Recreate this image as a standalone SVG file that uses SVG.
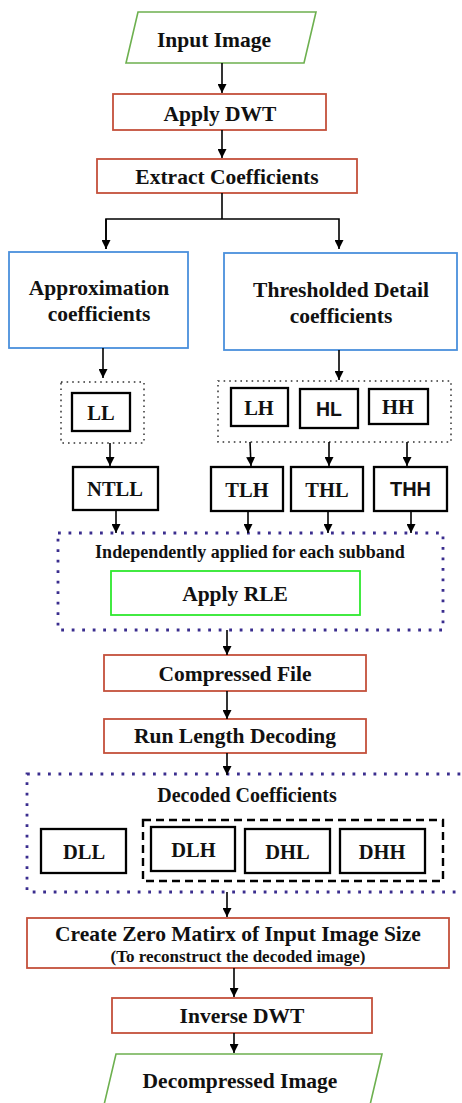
<svg xmlns="http://www.w3.org/2000/svg" width="462" height="1103" viewBox="0 0 462 1103">
<defs>
<marker id="ah" viewBox="0 0 10 10" refX="10" refY="5" markerWidth="9" markerHeight="9" markerUnits="userSpaceOnUse" orient="auto">
<path d="M0,0 L10,5 L0,10 z" fill="#000"/>
</marker>
<style>
.t{font-family:"Liberation Serif","Times New Roman",serif;font-weight:bold;fill:#111;text-anchor:middle}
.s{font-family:"Liberation Sans",Arial,sans-serif;font-weight:bold;fill:#111;text-anchor:middle}
.f21{font-size:21.5px}
.f20{font-size:20.5px}
.io{fill:#fff;stroke:#6db04f;stroke-width:1.6}
.pr{fill:#fff;stroke:#c4503b;stroke-width:1.8}
.bl{fill:#fff;stroke:#4a90dc;stroke-width:1.8}
.bk{fill:#fff;stroke:#000;stroke-width:2.3}
.dot{fill:none;stroke:#333;stroke-width:1.5;stroke-dasharray:1.6 4}
.pd{fill:none;stroke:#3a2d8e;stroke-width:2.8;stroke-dasharray:2.8 7.7}
.ds{fill:none;stroke:#000;stroke-width:2.4;stroke-dasharray:8 5}
.c{fill:none;stroke:#000;stroke-width:1.6}
</style>
</defs>

<g id="input">
<polygon class="io" points="138,12 316,12 304,63 126,63"/>
<text class="t f21" x="214" y="47">Input Image</text>
</g>
<g id="dwt">
<rect class="pr" x="113" y="94" width="213" height="36"/>
<text class="t f21" x="220" y="121">Apply DWT</text>
</g>
<g id="extract">
<rect class="pr" x="97" y="159" width="260" height="34"/>
<text class="t f21" x="227" y="184">Extract Coefficients</text>
</g>
<g id="approx">
<rect class="bl" x="9" y="252" width="179" height="96"/>
<text class="t f21" x="99" y="295">Approximation</text>
<text class="t f21" x="99" y="321">coefficients</text>
</g>
<g id="detail">
<rect class="bl" x="224" y="253" width="233" height="97"/>
<text class="t f21" x="341" y="297">Thresholded Detail</text>
<text class="t f21" x="341" y="323">coefficients</text>
</g>
<g id="llgroup">
<rect class="dot" x="61" y="382" width="83" height="61"/>
</g>
<g id="ll">
<rect class="bk" x="72" y="393" width="58" height="38"/>
<text class="t f20" x="101" y="420">LL</text>
</g>
<g id="detailgroup">
<rect class="dot" x="218" y="381" width="233" height="61"/>
</g>
<g id="lh">
<rect class="bk" x="231" y="388" width="57" height="38"/>
<text class="t f20" x="259" y="415">LH</text>
</g>
<g id="hl">
<rect class="bk" x="300" y="389" width="58" height="39"/>
<text class="s" font-size="19.5" x="329" y="416">HL</text>
</g>
<g id="hh">
<rect class="bk" x="369" y="389" width="59" height="35"/>
<text class="t f20" x="398" y="414">HH</text>
</g>
<g id="ntll">
<rect class="bk" x="73" y="467" width="85" height="43"/>
<text class="t f20" x="115" y="496">NTLL</text>
</g>
<g id="tlh">
<rect class="bk" x="211" y="467" width="72" height="44"/>
<text class="t f20" x="247" y="497">TLH</text>
</g>
<g id="thl">
<rect class="bk" x="291" y="467" width="72" height="44"/>
<text class="t f20" x="327" y="497">THL</text>
</g>
<g id="thh">
<rect class="bk" x="374" y="467" width="73" height="44"/>
<text class="s" font-size="20" x="410.5" y="496">THH</text>
</g>
<g id="rlegroup">
<rect class="pd" x="58" y="533" width="385" height="97"/>
<text class="t" font-size="18" x="250" y="558">Independently applied for each subband</text>
</g>
<g id="rle">
<rect x="111" y="571" width="249" height="44" fill="#fff" stroke="#2ee82e" stroke-width="1.8"/>
<text class="t f21" x="235" y="601">Apply RLE</text>
</g>
<g id="compressed">
<rect class="pr" x="104" y="655" width="262" height="36"/>
<text class="t f21" x="235" y="681">Compressed File</text>
</g>
<g id="rld">
<rect class="pr" x="104" y="719" width="262" height="34"/>
<text class="t f21" x="235" y="743">Run Length Decoding</text>
</g>
<g id="decoded">
<rect class="pd" x="27" y="774" width="444" height="118"/>
<text class="t" font-size="20" x="247" y="802">Decoded Coefficients</text>
<rect class="ds" x="143" y="820" width="300" height="61"/>
</g>
<g id="dll">
<rect class="bk" x="41" y="829" width="85" height="44"/>
<text class="t f20" x="84" y="859">DLL</text>
</g>
<g id="dlh">
<rect class="bk" x="151" y="827" width="84" height="44"/>
<text class="t f20" x="193.5" y="857">DLH</text>
</g>
<g id="dhl">
<rect class="bk" x="245" y="829" width="85" height="44"/>
<text class="t f20" x="287.5" y="859">DHL</text>
</g>
<g id="dhh">
<rect class="bk" x="340" y="829" width="85" height="44"/>
<text class="t f20" x="382" y="859">DHH</text>
</g>
<g id="zero">
<rect class="pr" x="27" y="918" width="422" height="50"/>
<text class="t f21" x="238" y="941">Create Zero Matirx of Input Image Size</text>
<text class="t" font-size="17" x="238" y="962">(To reconstruct the decoded image)</text>
</g>
<g id="idwt">
<rect class="pr" x="112" y="998" width="260" height="35"/>
<text class="t f21" x="242" y="1023">Inverse DWT</text>
</g>
<g id="output">
<polygon class="io" points="116,1054 382,1054 370,1105 104,1105"/>
<text class="t f21" x="240" y="1088">Decompressed Image</text>
</g>

<g id="connectors">
<line class="c" x1="222" y1="63" x2="222" y2="93" marker-end="url(#ah)"/>
<line class="c" x1="222" y1="130" x2="222" y2="158" marker-end="url(#ah)"/>
<line class="c" x1="222" y1="193" x2="222" y2="219"/>
<polyline class="c" points="106,249 106,219 339,219 339,249" marker-end="url(#ah)"/>
<line class="c" x1="106" y1="219" x2="106" y2="249" marker-end="url(#ah)"/>
<line class="c" x1="103" y1="348" x2="103" y2="378" marker-end="url(#ah)"/>
<line class="c" x1="339" y1="350" x2="339" y2="380" marker-end="url(#ah)"/>
<line class="c" x1="110" y1="443" x2="110" y2="466" marker-end="url(#ah)"/>
<line class="c" x1="250" y1="442" x2="251" y2="466" marker-end="url(#ah)"/>
<line class="c" x1="329" y1="442" x2="329" y2="466" marker-end="url(#ah)"/>
<line class="c" x1="407" y1="442" x2="407" y2="466" marker-end="url(#ah)"/>
<line class="c" x1="116" y1="510" x2="116" y2="533" marker-end="url(#ah)"/>
<line class="c" x1="248" y1="511" x2="248" y2="533" marker-end="url(#ah)"/>
<line class="c" x1="328" y1="511" x2="328" y2="533" marker-end="url(#ah)"/>
<line class="c" x1="411" y1="511" x2="411" y2="533" marker-end="url(#ah)"/>
<line class="c" x1="227" y1="630" x2="227" y2="655" marker-end="url(#ah)"/>
<line class="c" x1="227" y1="691" x2="227" y2="719" marker-end="url(#ah)"/>
<line class="c" x1="227" y1="753" x2="227" y2="775" marker-end="url(#ah)"/>
<line class="c" x1="227" y1="892" x2="227" y2="917" marker-end="url(#ah)"/>
<line class="c" x1="234" y1="968" x2="234" y2="997" marker-end="url(#ah)"/>
<line class="c" x1="234" y1="1033" x2="234" y2="1053" marker-end="url(#ah)"/>
</g>
</svg>
